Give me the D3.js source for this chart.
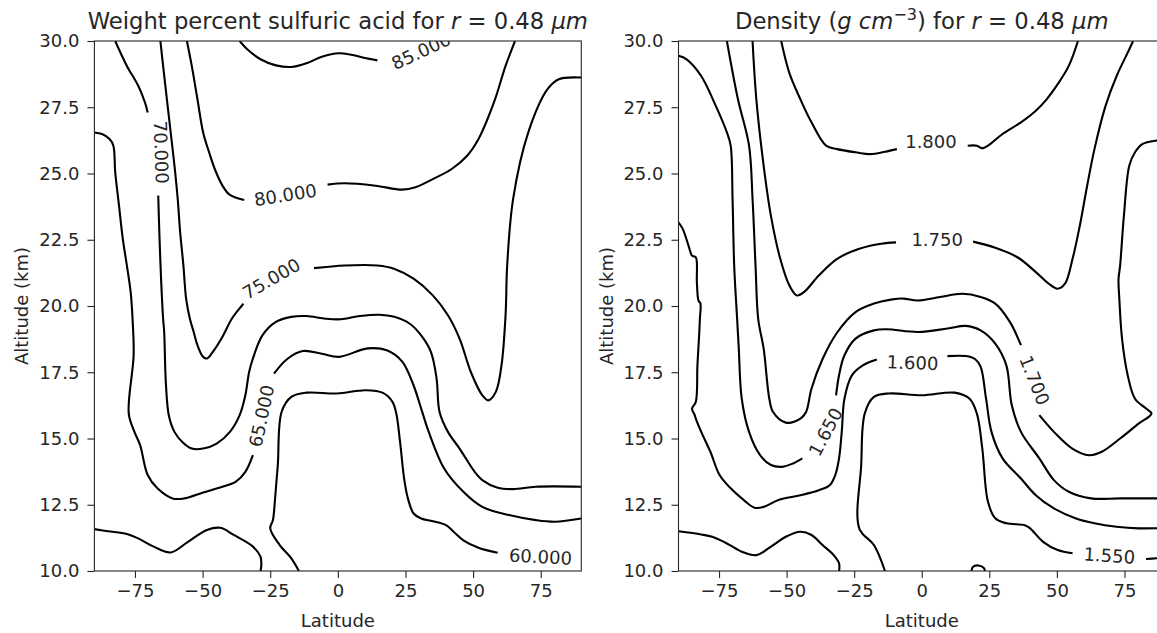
<!DOCTYPE html>
<html>
<head>
<meta charset="utf-8">
<script src="https://cdn.jsdelivr.net/npm/d3@7"></script>
<style>
  body { margin: 0; background: #fff; }
  text { font-family: "DejaVu Sans", sans-serif; fill: #262626; }
</style>
</head>
<body>
<script>
// contour lines, as [latitude, altitude km]
let wt60a = [[-14.4,10],[-17.2,10.48],[-21.5,10.98],[-25,11.61],[-24,11.92],[-23.2,12.74],[-22.2,13.99],[-20.8,16.0],[-17.2,16.57],[-11.6,16.73],[-0.3,16.7],[10.3,16.82],[16.7,16.72],[20.2,16.38],[21.6,15.94],[23,14.87],[24.5,13.49],[25.9,12.74],[28,12.17],[30.8,11.98],[35.1,11.88],[40,11.73],[42.8,11.48],[46.4,11.16],[52,10.88],[59.1,10.69]]
let wt60b = [[-90,11.58],[-85,11.5],[-78,11.4],[-73.8,11.23],[-68.1,10.92],[-61.8,10.7],[-55.4,11.1],[-48.4,11.55],[-43.4,11.63],[-38.5,11.36],[-31.4,10.92],[-28.6,10.54],[-28.3,10.23],[-28.6,10]]
let wt65a = [[-90,26.55],[-87.2,26.49],[-84.4,26.3],[-83,26.05],[-82.3,25.04],[-80.9,23.79],[-79.5,22.53],[-78,21.53],[-76.6,20.53],[-75.9,19.52],[-75.5,18.14],[-77.3,15.94],[-75.2,15.25],[-73.1,14.75],[-70.3,13.62],[-66.7,13.12],[-61.1,12.74],[-56.8,12.74],[-49.8,12.96],[-42.7,13.18],[-37.7,13.37],[-34.2,13.74],[-31.4,14.37]]
let wt65b = [[-23.6,17.45],[-18.7,18.0],[-13,18.3],[-5.9,18.2],[0.4,18.08],[11,18.4],[18.1,18.33],[23.8,17.9],[28,17.0],[30.8,16.13],[33.6,15.25],[39.3,13.87],[46.4,12.99],[53.4,12.42],[63.3,12.11],[73.2,11.92],[80.3,11.86],[90,11.98]]
let wt70a = [[-82.3,30],[-78,29.06],[-73.8,28.31],[-71.3,27.68],[-70.3,27.3]]
let wt70b = [[-66.4,24.17],[-66,22.79],[-65.3,20.9],[-64.6,19.52],[-64.2,19.02],[-63.6,17.14],[-62.5,15.88],[-60.4,15.25],[-57.5,14.87],[-54,14.62],[-49.8,14.62],[-44.8,14.81],[-39.9,15.25],[-36.3,15.88],[-34.2,16.63],[-32.8,17.51],[-31.4,18.02],[-27.9,18.89],[-22.9,19.4],[-17.2,19.59],[-11.6,19.62],[-4.5,19.52],[1.1,19.5],[8.2,19.62],[15.3,19.67],[20.9,19.59],[26.6,19.33],[30.8,18.89],[34.4,18.27],[36.5,17.26],[37.6,16.0],[40.7,15.25],[45,14.62],[50.6,13.74],[53.4,13.43],[59.1,13.14],[64.8,13.09],[73.2,13.18],[90,13.18]]
let wt75a = [[-65.6,30],[-64.6,29.06],[-63.2,27.8],[-61.8,26.55],[-60.4,25.3],[-59.2,24.04],[-58.3,22.79],[-57.1,21.53],[-56.1,20.28],[-54.7,19.52],[-53.3,19.02],[-51.9,18.52],[-49.8,18.08],[-48.4,18.02],[-46.2,18.27],[-42.7,18.83],[-39.2,19.52],[-35.6,20.0],[-34.9,20.09]]
let wt75b = [[-8.8,21.43],[2.5,21.53],[14.6,21.53],[21,21.4],[28,21.03],[35.1,20.4],[40.7,19.65],[45,18.77],[49.2,17.5],[53.4,16.63],[55.6,16.44],[58.4,16.76],[60.5,17.76],[62,19.65],[62.6,21.53],[64.8,24.04],[70.4,26.55],[77.5,28.18],[81.7,28.56],[90,28.62]]
let wt80a = [[-55.8,30],[-54,29.06],[-51.9,27.8],[-49.8,26.55],[-47.6,25.8],[-45.5,25.17],[-42.7,24.55],[-39.9,24.19],[-34.6,24.0]]
let wt80b = [[-3.8,24.58],[2.5,24.63],[13.9,24.54],[23.8,24.39],[28.7,24.48],[35.1,24.79],[42.1,25.17],[47.8,25.67],[52,26.3],[57.7,27.68],[62,29.06],[65.5,30]]
let wt85 = [[-36.3,30],[-33.5,29.69],[-28.6,29.31],[-22.9,29.08],[-17.2,29.02],[-11.6,29.16],[-5.9,29.41],[0.4,29.54],[5.4,29.47],[9.6,29.37],[14.6,29.27]]

let rho155a = [[-13.6,10],[-17.7,10.98],[-23.1,11.6],[-22.4,14.0],[-21.1,15.94],[-17.7,16.57],[-12.2,16.7],[0,16.63],[12.2,16.73],[17.7,16.5],[20.4,15.94],[22.4,14.62],[24.5,12.61],[27.2,11.99],[31.3,11.8],[38.1,11.73],[40.1,11.61],[44.9,11.1],[50.3,10.79],[55.8,10.67]]
let rho155b = [[83,10.45],[86.8,10.48],[90,10.5]]
let rho155c = [[-90,11.5],[-81.6,11.38],[-77.5,11.29],[-72.1,11.04],[-66.6,10.73],[-61.2,10.6],[-55.8,10.92],[-50.3,11.29],[-44.9,11.48],[-40.8,11.36],[-36.7,10.98],[-32.6,10.6],[-30.6,10.29],[-30.6,10]]
let rho155d = [[18.4,10],[18.9,10.15],[20.9,10.21],[23.1,10.1],[23.3,10]]
let rho160a = [[-90,23.16],[-88.4,22.9],[-86.3,22.28],[-85,21.9],[-83.6,21.84],[-83.2,20.9],[-82.6,20.2],[-81.9,20.1],[-82.1,19.5],[-82.3,19.02],[-83,17.76],[-83.6,16.38],[-85,16.13],[-84,15.88],[-83.6,15.75],[-81.6,15.25],[-78.2,14.5],[-74.8,13.62],[-70.7,13.12],[-66.6,12.74],[-61.9,12.39],[-58.5,12.42],[-53,12.68],[-44.9,12.86],[-38.1,13.05],[-34,13.24],[-32,13.62],[-30.6,14.25],[-29.6,15.25],[-28.6,16.5],[-25.8,17.39],[-21.8,17.76],[-16.6,17.98]]
let rho160b = [[9.5,18.11],[16.3,18.11],[19.7,18.0],[21.8,17.7],[23.8,16.5],[25.8,15.25],[29.9,14.25],[36.7,13.49],[42.2,12.86],[48.9,12.36],[57.1,11.98],[63.9,11.8],[72.1,11.67],[80.2,11.61],[90,11.62]]
let rho165a = [[-90,29.44],[-87,29.31],[-81.6,28.68],[-76.2,27.55],[-72.1,26.55],[-70.7,26.05],[-70,24.04],[-69.4,21.53],[-68.3,19.5],[-67.7,18.4],[-66.6,16.5],[-63.9,15.25],[-59.8,14.37],[-55.8,14.0],[-51.7,13.93],[-47.6,14.06],[-44.2,14.25]]
let rho165b = [[-31.7,16.63],[-30.6,17.39],[-28.6,18.14],[-24.5,18.77],[-17.7,19.08],[-12.9,19.12],[-1.4,19.02],[9.5,19.15],[16.3,19.25],[21.8,19.08],[27.2,18.58],[31.3,17.76],[33.3,16.26],[36.7,15.25],[43.5,14.25],[48.9,13.43],[54.4,12.99],[62.6,12.74],[73.4,12.74],[90,12.74]]
let rho170a = [[-72.1,30],[-68,27.8],[-63.9,26.05],[-62.6,24.04],[-61.5,21.53],[-60.5,19.5],[-58.5,18.4],[-56.4,16.5],[-55,16.0],[-50.3,15.6],[-44.9,15.75],[-42.8,16.0],[-40.8,16.88],[-36.7,18.0],[-31.3,19.0],[-24.5,19.77],[-17.7,20.09],[-10.9,20.25],[-6.8,20.28],[-1.4,20.21],[6.8,20.34],[15,20.46],[21.8,20.34],[27.2,20.09],[32.6,19.4],[36.7,18.52]]
let rho170b = [[43.5,15.88],[48.9,15.25],[55.7,14.62],[61.9,14.37],[66.6,14.5],[73.4,15.0],[80.2,15.56],[85,15.94],[83,16.13],[78.9,16.5],[76.2,17.39],[74.1,18.77],[73.1,20.28],[72.8,21.0],[73.4,21.53],[74.8,23.41],[76.8,25.3],[78.9,25.8],[81.6,26.11],[86.8,26.24],[90,26.25]]
let rho175a = [[-62.6,30],[-61.2,27.8],[-58.5,25.3],[-55.8,23.4],[-52.4,21.8],[-49,20.78],[-46.2,20.4],[-43.5,20.53],[-38.1,21.15],[-31.3,21.78],[-23.1,22.16],[-15,22.35],[-9.5,22.4]]
let rho175b = [[19,22.43],[27.2,22.2],[35.4,21.84],[42.2,21.28],[47,20.84],[50.3,20.65],[53,20.84],[55.8,21.78],[58.5,23.04],[61.2,24.54],[63.9,25.92],[68,27.55],[72.1,28.68],[76.2,29.56],[78.2,30]]
let rho180a = [[-52,30],[-49,28.8],[-44.9,27.8],[-40.8,26.93],[-35.4,26.05],[-31.3,25.92],[-24.5,25.8],[-19,25.73],[-13.6,25.82],[-9.2,25.92]]
let rho180b = [[17,26.05],[20.4,26.05],[22.4,25.95],[24.5,26.05],[29.9,26.49],[36.7,26.93],[42.2,27.37],[46.2,27.8],[50.3,28.37],[54.4,29.06],[57.8,30]]

let wtLines = [wt60a, wt60b, wt65a, wt65b, wt70a, wt70b, wt75a, wt75b, wt80a, wt80b, wt85]
let rhoLines = [rho155a, rho155b, rho155c, rho155d, rho160a, rho160b, rho165a, rho165b, rho170a, rho170b, rho175a, rho175b, rho180a, rho180b]

// contour labels: text, latitude, altitude, angle along the line
let wtLabels = [['60.000', 74.9, 10.54, 3], ['65.000', -28.2, 15.85, -78], ['70.000', -65.3, 25.8, 88],
  ['75.000', -24.6, 21.03, -30], ['80.000', -19.4, 24.19, -9], ['85.000', 30.8, 29.62, -25]]
let rhoLabels = [['1.550', 69.4, 10.58, 4], ['1.600', -3.4, 17.86, 2], ['1.650', -35.6, 15.25, -62],
  ['1.700', 41.8, 17.2, 68], ['1.750', 5.7, 22.5, 0], ['1.800', 3.4, 26.2, 0]]

let xTicks = [-75, -50, -25, 0, 25, 50, 75]
let yTicks = [10, 12.5, 15, 17.5, 20, 22.5, 25, 27.5, 30]

let W = 1157, H = 633
let axTop = 41, axBottom = 571

let svg = d3.select('body').append('svg')
  .attr('width', W)
  .attr('height', H)

function panel(left, right, lines, labels, id, titleParts) {
  let x = d3.scaleLinear().domain([-90, 90]).range([left, right])
  let y = d3.scaleLinear().domain([10, 30]).range([axBottom, axTop])
  let g = svg.append('g')

  g.append('clipPath').attr('id', id)
    .append('rect')
    .attr('x', left).attr('y', axTop)
    .attr('width', right - left).attr('height', axBottom - axTop)

  let line = d3.line()
    .x(d => x(d[0]))
    .y(d => y(d[1]))
    .curve(d3.curveCatmullRom.alpha(0.5))

  g.append('g').attr('clip-path', 'url(#' + id + ')')
    .selectAll('path')
    .data(lines)
    .enter()
    .append('path')
    .attr('d', line)
    .attr('fill', 'none')
    .attr('stroke', '#000')
    .attr('stroke-width', 2.1)
    .attr('stroke-linejoin', 'round')

  g.append('g').attr('clip-path', 'url(#' + id + ')')
    .selectAll('text')
    .data(labels)
    .enter()
    .append('text')
    .attr('transform', d => 'translate(' + x(d[1]) + ',' + y(d[2]) + ') rotate(' + d[3] + ')')
    .attr('text-anchor', 'middle')
    .attr('dy', '0.36em')
    .attr('font-size', 18)
    .text(d => d[0])

  // axes
  let xAxis = g.append('g')
    .attr('transform', 'translate(0,' + axBottom + ')')
    .call(d3.axisBottom(x).tickValues(xTicks).tickSize(7).tickPadding(6))
  let yAxis = g.append('g')
    .attr('transform', 'translate(' + left + ',0)')
    .call(d3.axisLeft(y).tickValues(yTicks).tickFormat(d3.format('.1f')).tickSize(7).tickPadding(8))
  for (let a of [xAxis, yAxis]) {
    a.select('.domain').remove()
    a.selectAll('line').attr('stroke', '#262626').attr('stroke-width', 1.1)
    a.selectAll('text').attr('font-size', 18).attr('font-family', 'DejaVu Sans').attr('fill', '#262626')
  }

  g.append('rect')
    .attr('x', left).attr('y', axTop)
    .attr('width', right - left).attr('height', axBottom - axTop)
    .attr('fill', 'none')
    .attr('stroke', '#262626')
    .attr('stroke-width', 1.1)

  g.append('text')
    .attr('x', (left + right) / 2)
    .attr('y', 627)
    .attr('text-anchor', 'middle')
    .attr('font-size', 18)
    .text('Latitude')

  g.append('text')
    .attr('transform', 'translate(' + (left - 66) + ',' + (axTop + axBottom) / 2 + ') rotate(-90)')
    .attr('text-anchor', 'middle')
    .attr('font-size', 18)
    .text('Altitude (km)')

  let t = g.append('text')
    .attr('x', (left + right) / 2)
    .attr('y', 29)
    .attr('text-anchor', 'middle')
    .attr('font-size', 22.7)
  for (let p of titleParts) {
    let s = t.append('tspan').text(p.t)
    if (p.i) s.attr('font-style', 'italic')
    if (p.sup) s.attr('dy', -9).attr('font-size', 16)
    if (p.down) s.attr('dy', 9)
  }
}

panel(94.4, 581.3, wtLines, wtLabels, 'clipA', [
  {t: 'Weight percent sulfuric acid for '}, {t: 'r', i: true}, {t: ' = 0.48 '}, {t: 'μm', i: true}])
panel(678.5, 1165, rhoLines, rhoLabels, 'clipB', [
  {t: 'Density ('}, {t: 'g cm', i: true}, {t: '−3', sup: true}, {t: ')', down: true},
  {t: ' for '}, {t: 'r', i: true}, {t: ' = 0.48 '}, {t: 'μm', i: true}])
</script>
</body>
</html>
